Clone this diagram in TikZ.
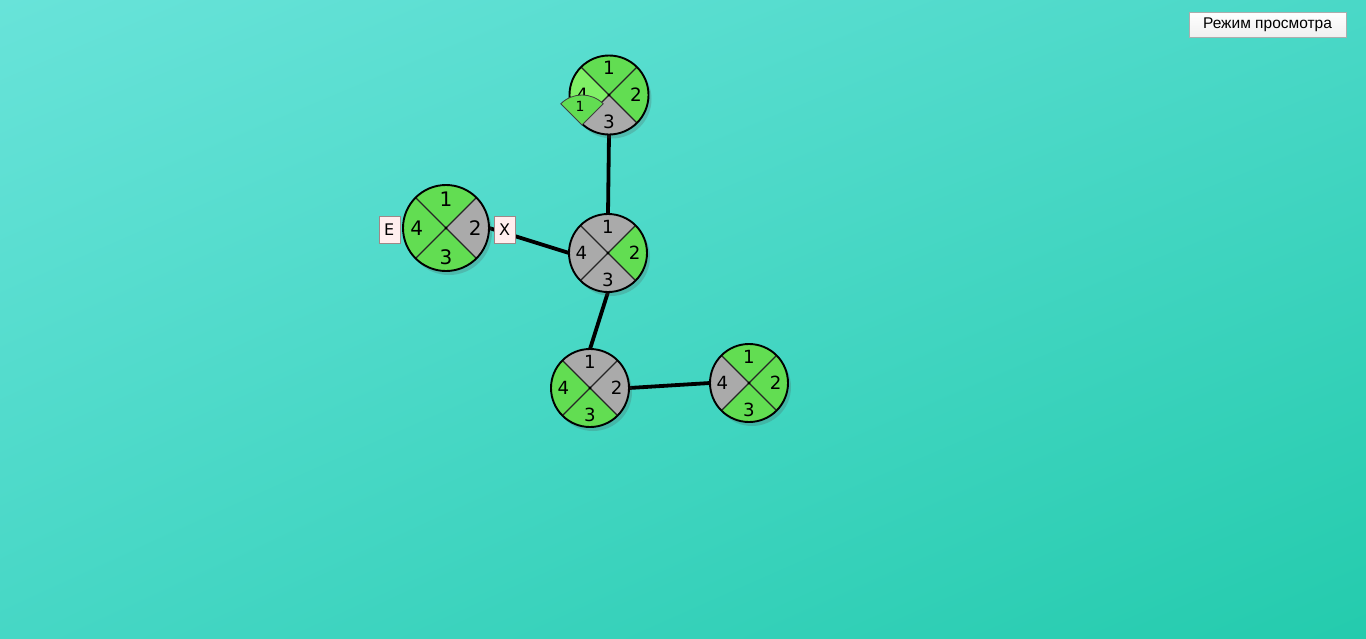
\documentclass[tikz,border=0pt]{standalone}
\usepackage{fontspec}
\setmainfont{DejaVu Sans}
\newfontfamily\buttonfont{Liberation Sans}
\usetikzlibrary{positioning, shadows, shadings, backgrounds}

\definecolor{portgreen}{RGB}{98,221,82}
\definecolor{portlight}{RGB}{128,240,102}
\definecolor{portgray}{RGB}{170,170,170}
\definecolor{bgtopleft}{HTML}{68E3D9}
\definecolor{bgtopright}{HTML}{4AD8C7}
\definecolor{bgbotleft}{HTML}{46D7C5}
\definecolor{bgbotright}{HTML}{24CBAD}
\definecolor{tagfill}{HTML}{FFEEEE}
\definecolor{tagrim}{HTML}{A08888}

\tikzstyle{hub} = [circle, inner sep=0pt, outer sep=0pt, fill=portgray, drop shadow={shadow xshift=3pt, shadow yshift=-4pt, opacity=0.22, fill=black!70}]
\tikzstyle{rim} = [draw=black, line width=1.9pt]
\tikzstyle{cross} = [draw=black!85, line width=1.2pt]
\tikzstyle{link} = [line width=3.8pt, black]
\tikzstyle{tag} = [rectangle, draw=tagrim, fill=tagfill, inner sep=0pt, minimum width=21pt, minimum height=27pt, font=\fontsize{16}{16}\selectfont]
\tikzstyle{fan} = [fill=portgreen, draw=black!75, line width=0.8pt]
\tikzstyle{button} = [rectangle, draw=black!32, top color=white, bottom color=black!6, minimum width=157pt, minimum height=25pt, inner sep=0pt, font=\buttonfont\fontsize{15.5}{15.5}\selectfont]

% name, centre, radius, colours of ports 1 (top) to 4 (left)
\newcommand{\hubnode}[7]{
    \node (#1) [hub, minimum size=2*#3] at (#2) {};
    \fill [#4] (#1.center) -- (#1.45) arc [start angle=45, end angle=135, radius=#3] -- cycle;
    \fill [#5] (#1.center) -- (#1.-45) arc [start angle=-45, end angle=45, radius=#3] -- cycle;
    \fill [#6] (#1.center) -- (#1.-135) arc [start angle=-135, end angle=-45, radius=#3] -- cycle;
    \fill [#7] (#1.center) -- (#1.135) arc [start angle=135, end angle=225, radius=#3] -- cycle;
    \draw [cross] (#1.45) -- (#1.225) (#1.135) -- (#1.-45);
    \fill (#1.center) circle (1.6);
    \draw [rim] (#1.center) circle (#3);
    \path (#1.center) ++(90:{0.68*#3}) node [font=\fontsize{\fpeval{0.465*#3}}{\fpeval{0.465*#3}}\selectfont, inner sep=0pt] {1};
    \path (#1.center) ++(0:{0.68*#3}) node [font=\fontsize{\fpeval{0.465*#3}}{\fpeval{0.465*#3}}\selectfont, inner sep=0pt] {2};
    \path (#1.center) ++(-90:{0.68*#3}) node [font=\fontsize{\fpeval{0.465*#3}}{\fpeval{0.465*#3}}\selectfont, inner sep=0pt] {3};
    \path (#1.center) ++(180:{0.68*#3}) node [font=\fontsize{\fpeval{0.465*#3}}{\fpeval{0.465*#3}}\selectfont, inner sep=0pt] {4};
}

\begin{document}
\begin{tikzpicture}[x=1pt, y=1pt]

    \useasboundingbox (0,0) rectangle (1366,-638);

    \begin{pgfonlayer}{background}
        \shade [upper left=bgtopleft, upper right=bgtopright, lower left=bgbotleft, lower right=bgbotright] (0,0) rectangle (1366,-638);
    \end{pgfonlayer}

    \hubnode{top}{609,-95}{39.5}{portgreen}{portgreen}{portgray}{portlight}
    \hubnode{left}{446,-228}{43}{portgreen}{portgray}{portgreen}{portgreen}
    \hubnode{centre}{608,-253}{39}{portgray}{portgreen}{portgray}{portgray}
    \hubnode{lower}{590,-388}{39}{portgray}{portgray}{portgreen}{portgreen}
    \hubnode{right}{749,-383}{39}{portgreen}{portgreen}{portgreen}{portgray}

    % port marker over the top node
    \coordinate (fancentre) at ([xshift=-27pt, yshift=-30pt]top.center);
    \filldraw [fan] (fancentre) -- ++(45:30) arc [start angle=45, end angle=135, radius=30] -- cycle;
    \node (fanlabel) [font=\fontsize{14}{14}\selectfont, inner sep=0pt] at ([xshift=-2pt, yshift=19pt]fancentre) {1};

    \node (entry) [tag, left=3pt of left.west, yshift=-1.5pt] {E};
    \node (exit) [tag, right=5pt of left.east, yshift=-1.5pt] {X};

    \begin{pgfonlayer}{background}
        \draw [link] (top.south) -- (centre.north);
        \draw [link] (left.east) -- (centre.west);
        \draw [link] (centre.south) -- (lower.north);
        \draw [link] (lower.east) -- (right.west);
    \end{pgfonlayer}

    \node (viewmode) [button] at (1267.5,-24.5) {Режим просмотра};

\end{tikzpicture}
\end{document}
